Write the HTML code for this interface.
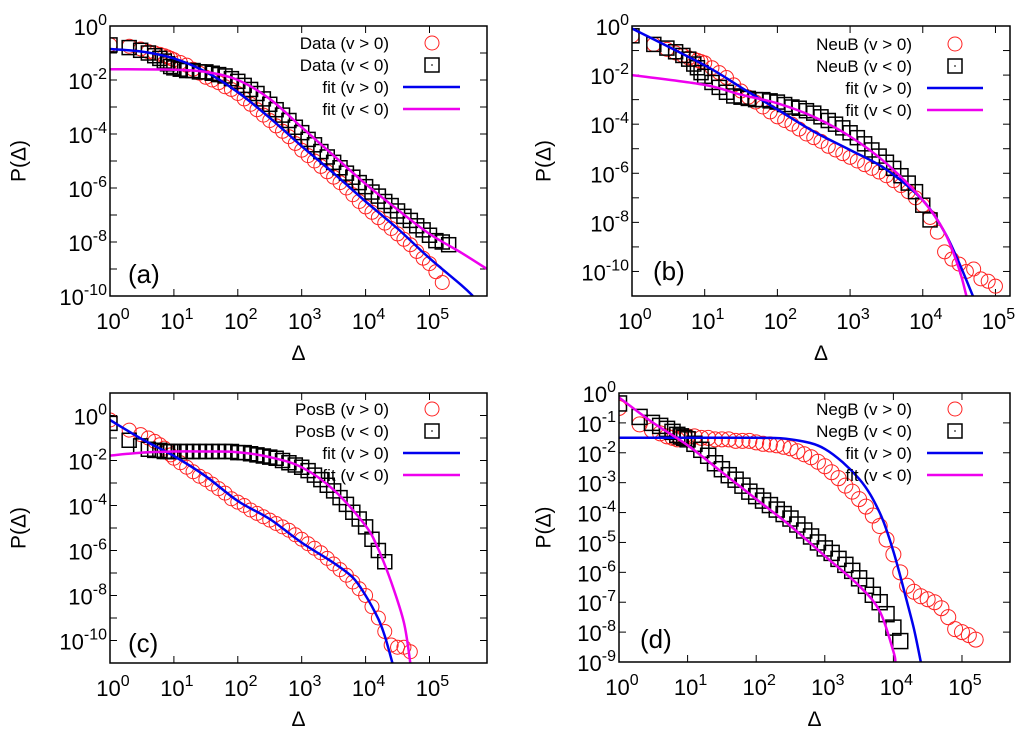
<!DOCTYPE html>
<html><head><meta charset="utf-8"><style>
html,body{margin:0;padding:0;background:#fff;}
svg{display:block;font-family:"Liberation Sans",sans-serif;}
</style></head><body>
<svg id="fig" width="1024" height="738" viewBox="0 0 1024 738" xmlns="http://www.w3.org/2000/svg"></svg>
<script>
// shared bin positions (log10 Δ)
const bins=[0,0.3,0.48,0.6,0.7,0.78,0.85,0.9,0.95,1.0,1.1,1.2,1.3,1.4,1.5,1.6,1.7,1.8,1.9,2.0,2.1,2.2,2.3,2.4,2.5,2.6,2.7,2.8,2.9,3.0,3.1,3.2,3.3,3.4,3.5,3.6,3.7,3.8,3.9,4.0,4.1,4.2,4.3,4.4,4.5,4.6,4.7,4.8,4.9,5.0,5.1,5.2,5.3];
// panel (a) log10 P values
const aRed=[-0.7,-0.75,-0.85,-0.95,-1.0,-1.05,-1.1,-1.15,-1.2,-1.25,-1.35,-1.45,-1.6,-1.75,-1.9,-2.0,-2.1,-2.25,-2.35,-2.5,-2.7,-2.9,-3.1,-3.3,-3.5,-3.7,-3.9,-4.1,-4.35,-4.6,-4.8,-5.0,-5.2,-5.4,-5.6,-5.8,-6.0,-6.25,-6.5,-6.7,-6.9,-7.1,-7.3,-7.5,-7.7,-7.9,-8.1,-8.35,-8.6,-8.8,-9.1,-9.5];
const aBlack=[-0.7,-0.8,-0.9,-1.0,-1.1,-1.2,-1.3,-1.4,-1.5,-1.55,-1.6,-1.65,-1.65,-1.7,-1.7,-1.75,-1.8,-1.85,-1.95,-2.05,-2.2,-2.35,-2.5,-2.7,-2.9,-3.1,-3.3,-3.5,-3.75,-3.95,-4.2,-4.4,-4.65,-4.85,-5.05,-5.25,-5.45,-5.6,-5.8,-5.95,-6.15,-6.3,-6.5,-6.65,-6.85,-7.05,-7.2,-7.4,-7.55,-7.75,-7.95,-8.0,-8.1];
const aBlueX=[0,0.5,1.0,1.5,2.0,2.5,3.0,3.5,4.0,4.5,5.0,5.5,5.68];
const aBlueY=[-0.85,-0.95,-1.2,-1.7,-2.45,-3.4,-4.45,-5.45,-6.5,-7.5,-8.6,-9.6,-10];
const aMagX=[0,1.0,1.5,2.0,2.5,3.0,3.5,4.0,4.5,5.0,5.5,5.9];
const aMagY=[-1.6,-1.62,-1.7,-2.0,-2.7,-3.75,-4.8,-5.85,-6.8,-7.7,-8.4,-9.0];
// panel (b)
const bRed=[-0.4,-0.75,-0.95,-1.1,-1.2,-1.3,-1.35,-1.4,-1.45,-1.5,-1.7,-1.9,-2.1,-2.4,-2.65,-2.9,-3.1,-3.3,-3.5,-3.7,-3.85,-4.0,-4.2,-4.4,-4.55,-4.7,-4.9,-5.05,-5.2,-5.35,-5.5,-5.65,-5.8,-5.95,-6.1,-6.3,-6.5,-6.75,-7.0,-7.3,-7.8,-8.4,-9.2,-9.5,-9.7,-10.0,-9.9,-10.3,-10.4,-10.6];
const bBlack=[-0.4,-0.75,-0.9,-1.05,-1.2,-1.35,-1.55,-1.7,-1.9,-2.05,-2.3,-2.5,-2.7,-2.85,-2.9,-2.95,-3.0,-3.0,-3.05,-3.1,-3.2,-3.3,-3.35,-3.45,-3.55,-3.7,-3.85,-4.0,-4.15,-4.35,-4.55,-4.8,-5.05,-5.3,-5.55,-5.8,-6.1,-6.4,-6.75,-7.3,-7.9];
const bBlueX=[0,1.0,1.5,2.0,2.5,3.0,3.5,4.0,4.3,4.5,4.69];
const bBlueY=[-0.1,-1.6,-2.5,-3.4,-4.3,-5.05,-5.85,-7.1,-8.4,-9.65,-11];
const bMagX=[0,1.0,1.5,2.0,2.5,3.0,3.5,4.0,4.3,4.5,4.6];
const bMagY=[-2.0,-2.4,-2.8,-3.15,-3.7,-4.5,-5.6,-7.1,-8.4,-9.9,-11];
// panel (c)
const cRed=[-0.2,-0.65,-0.85,-1.0,-1.15,-1.3,-1.45,-1.6,-1.75,-1.9,-2.1,-2.3,-2.5,-2.7,-2.85,-3.05,-3.25,-3.45,-3.7,-3.85,-4.0,-4.2,-4.35,-4.5,-4.65,-4.8,-4.95,-5.1,-5.3,-5.5,-5.7,-5.9,-6.1,-6.35,-6.6,-6.85,-7.1,-7.4,-7.7,-8.0,-8.5,-9.0,-9.6,-10.2,-10.3,-10.3,-10.5];
const cBlack=[-0.35,-1.1,-1.35,-1.5,-1.55,-1.55,-1.6,-1.6,-1.6,-1.6,-1.6,-1.6,-1.6,-1.6,-1.6,-1.6,-1.6,-1.6,-1.6,-1.65,-1.65,-1.7,-1.75,-1.8,-1.85,-1.9,-2.0,-2.1,-2.2,-2.3,-2.45,-2.65,-2.85,-3.1,-3.35,-3.65,-3.95,-4.3,-4.6,-4.95,-5.5,-6.0,-6.5];
const cBlueX=[0,0.5,1.0,1.5,2.0,2.5,3.0,3.5,3.8,4.0,4.2,4.3,4.42];
const cBlueY=[-0.2,-1.05,-1.8,-2.7,-3.8,-4.6,-5.65,-6.55,-7.2,-8.0,-9.05,-9.8,-11];
const cMagX=[0,0.5,1.0,1.5,2.0,2.5,3.0,3.5,4.0,4.2,4.4,4.6,4.7];
const cMagY=[-1.78,-1.65,-1.6,-1.6,-1.63,-1.85,-2.3,-3.3,-4.9,-5.95,-7.4,-9.2,-11];
// panel (d)
const dRed=[-0.5,-1.05,-1.25,-1.35,-1.45,-1.5,-1.55,-1.5,-1.45,-1.45,-1.45,-1.5,-1.5,-1.55,-1.55,-1.55,-1.6,-1.6,-1.6,-1.65,-1.7,-1.72,-1.75,-1.8,-1.85,-1.95,-2.05,-2.15,-2.3,-2.45,-2.65,-2.85,-3.1,-3.3,-3.55,-3.8,-4.1,-4.45,-4.9,-5.4,-6.0,-6.45,-6.65,-6.8,-6.9,-7.0,-7.2,-7.5,-7.9,-8.0,-8.1,-8.25];
const dBlack=[-0.35,-0.8,-1.0,-1.1,-1.2,-1.3,-1.4,-1.45,-1.5,-1.55,-1.7,-1.9,-2.1,-2.35,-2.55,-2.75,-2.9,-3.1,-3.3,-3.45,-3.6,-3.75,-3.9,-4.05,-4.2,-4.4,-4.6,-4.8,-5.0,-5.2,-5.35,-5.55,-5.75,-5.95,-6.2,-6.45,-6.75,-7.0,-7.4,-7.85,-8.3];
const dBlueX=[0,1.0,2.0,2.5,3.0,3.5,3.8,4.0,4.2,4.3,4.4];
const dBlueY=[-1.5,-1.5,-1.5,-1.55,-1.87,-2.87,-4.0,-5.3,-7.0,-7.9,-9.0];
const dMagX=[0,0.5,1.0,1.5,2.0,2.5,3.0,3.5,3.8,4.0,4.03];
const dMagY=[-0.15,-1.0,-1.75,-2.65,-3.55,-4.45,-5.45,-6.45,-7.3,-8.65,-9.0];

const NS="http://www.w3.org/2000/svg";
const svg=document.getElementById('fig');
function mk(tag,attrs,parent){const e=document.createElementNS(NS,tag);for(const k in attrs)e.setAttribute(k,attrs[k]);(parent||svg).appendChild(e);return e;}

const panels=[
 {id:'a',L:110,R:487,T:26,B:296,xmax:5.9,ymin:-10,ymax:0,ystep:2,name:'Data',red:aRed,black:aBlack,bx:aBlueX,by:aBlueY,mx:aMagX,my:aMagY,legX:389,legY:43,symX:432,lineX1:403,lineX2:460,labX:128,labY:283,ylabX:20,xlabY:360,ms:14},
 {id:'b',L:632,R:1010,T:26,B:296,xmax:5.2,ymin:-11,ymax:0,ystep:2,name:'NeuB',red:bRed,black:bBlack,bx:bBlueX,by:bBlueY,mx:bMagX,my:bMagY,legX:912,legY:44,symX:955,lineX1:927,lineX2:983,labX:653,labY:280,ylabX:545,xlabY:360,ms:14},
 {id:'c',L:110,R:487,T:393,B:663,xmax:5.9,ymin:-11,ymax:1,ystep:2,name:'PosB',red:cRed,black:cBlack,bx:cBlueX,by:cBlueY,mx:cMagX,my:cMagY,legX:389,legY:409,symX:432,lineX1:403,lineX2:460,labX:128,labY:652,ylabX:20,xlabY:726,ms:14},
 {id:'d',L:619,R:1010,T:393,B:662,xmax:5.7,ymin:-9,ymax:0,ystep:1,name:'NegB',red:dRed,black:dBlack,bx:dBlueX,by:dBlueY,mx:dMagX,my:dMagY,legX:912,legY:409,symX:955,lineX1:927,lineX2:983,labX:640,labY:648,ylabX:545,xlabY:726,ms:15}
];

function smoothPath(pts){
 let d='M'+pts[0][0].toFixed(1)+','+pts[0][1].toFixed(1);
 for(let i=0;i<pts.length-1;i++){
  const p0=pts[Math.max(0,i-1)],p1=pts[i],p2=pts[i+1],p3=pts[Math.min(pts.length-1,i+2)];
  const c1=[p1[0]+(p2[0]-p0[0])/6,p1[1]+(p2[1]-p0[1])/6];
  const c2=[p2[0]-(p3[0]-p1[0])/6,p2[1]-(p3[1]-p1[1])/6];
  d+=' C'+c1[0].toFixed(1)+','+c1[1].toFixed(1)+' '+c2[0].toFixed(1)+','+c2[1].toFixed(1)+' '+p2[0].toFixed(1)+','+p2[1].toFixed(1);
 }
 return d;
}

panels.forEach(p=>{
 const g=mk('g',{});
 
 
 const xs=v=>p.L+(v/p.xmax)*(p.R-p.L);
 const ys=v=>p.T+((p.ymax-v)/(p.ymax-p.ymin))*(p.B-p.T);
 const clipId='clip'+p.id;
 const cp=mk('clipPath',{id:clipId},g);mk('rect',{x:p.L,y:p.T,width:p.R-p.L,height:p.B-p.T},cp);
 const tg=mk('g',{stroke:'#000','stroke-width':1},g);
 
 
 for(let e=0;e<=Math.floor(p.xmax);e++){
  const x=xs(e);
  mk('line',{x1:x,y1:p.B,x2:x,y2:p.B-7},tg);mk('line',{x1:x,y1:p.T,x2:x,y2:p.T+7},tg);
  const t=mk('text',{x:x+3,y:p.B+33,'font-size':22,'text-anchor':'middle',fill:'#000'},g);
  
  
  t.textContent='10';const s=mk('tspan',{dy:-10,'font-size':16},t);s.textContent=String(e);
 }
 for(let e=Math.ceil(p.ymin);e<=Math.floor(p.ymax);e++){
  const y=ys(e);
  mk('line',{x1:p.L,y1:y,x2:p.L+7,y2:y},tg);mk('line',{x1:p.R,y1:y,x2:p.R-7,y2:y},tg);
  if(e%p.ystep===0){
   const t=mk('text',{x:p.L-3,y:y+9,'font-size':22,'text-anchor':'end',fill:'#000'},g);
   
   
   t.textContent='10';const s=mk('tspan',{dy:-10,'font-size':16},t);s.textContent=String(e);
  }
 }
 const bpts=p.bx.map((v,i)=>[xs(v),ys(p.by[i])]);
 const mpts=p.mx.map((v,i)=>[xs(v),ys(p.my[i])]);
 const dg=mk('g',{'clip-path':'url(#'+clipId+')'},g);
 p.red.forEach((v,i)=>{
  const c=mk('circle',{cx:xs(bins[i]),cy:ys(v),r:p.ms/2,fill:'none',stroke:'#f22','stroke-width':1},dg);
  
  
 });
 p.black.forEach((v,i)=>{
  const r=mk('rect',{x:xs(bins[i])-p.ms/2,y:ys(v)-p.ms/2,width:p.ms,height:p.ms,fill:'none',stroke:'#000','stroke-width':1.5},dg);
  
  
 });
 const bl=mk('path',{d:smoothPath(bpts),fill:'none',stroke:'#0000ee','stroke-width':2.5,'clip-path':'url(#'+clipId+')'},g);
 
 
 const ml=mk('path',{d:smoothPath(mpts),fill:'none',stroke:'#ee00ee','stroke-width':2.5,'clip-path':'url(#'+clipId+')'},g);
 
 
 const fr=mk('rect',{x:p.L,y:p.T,width:p.R-p.L,height:p.B-p.T,fill:'none',stroke:'#000','stroke-width':1.5},g);
 
 
 const labels=[p.name+' (v > 0)',p.name+' (v < 0)','fit (v > 0)','fit (v < 0)'];
 labels.forEach((txt,i)=>{
  const y=p.legY+i*22;
  const t=mk('text',{x:p.legX,y:y+6,'font-size':17,'text-anchor':'end',fill:'#000'},g);
  
  
  t.textContent=txt;
  if(i===0){mk('circle',{cx:p.symX,cy:y,r:7,fill:'none',stroke:'#f22','stroke-width':1},g);}
  else if(i===1){mk('rect',{x:p.symX-7,y:y-7,width:14,height:14,fill:'none',stroke:'#000','stroke-width':1.5},g);mk('rect',{x:p.symX-0.7,y:y-0.7,width:1.4,height:1.4,fill:'#000'},g);}
  else{mk('line',{x1:p.lineX1,y1:y,x2:p.lineX2,y2:y,stroke:i===2?'#0000ee':'#ee00ee','stroke-width':2.5},g);}
 });
 const pl=mk('text',{x:p.labX,y:p.labY,'font-size':26,fill:'#000'},g);
 
 
 pl.textContent='('+p.id+')';
 const cy=(p.T+p.B)/2;
 const yl=mk('text',{x:p.ylabX,y:cy,'font-size':21,'text-anchor':'middle',fill:'#000',transform:'rotate(-90 '+(p.ylabX)+' '+cy+')','dominant-baseline':'middle'},g);
 
 
 yl.textContent='P(Δ)';
 const xl=mk('text',{x:(p.L+p.R)/2,y:p.xlabY,'font-size':21,'text-anchor':'middle',fill:'#000'},g);
 
 
 xl.textContent='Δ';
});
</script>
</body></html>
